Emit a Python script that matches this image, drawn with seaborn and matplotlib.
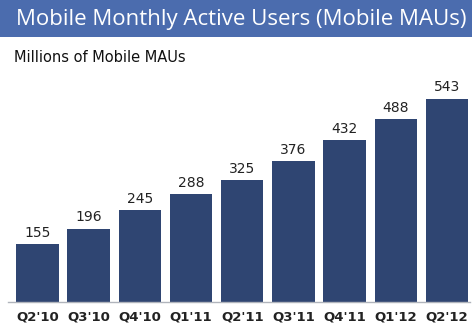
import matplotlib
matplotlib.use("Agg")
import matplotlib.pyplot as plt
import seaborn as sns
import pandas as pd
from matplotlib.patches import Rectangle

quarters = ["Q2'10", "Q3'10", "Q4'10", "Q1'11", "Q2'11", "Q3'11", "Q4'11", "Q1'12", "Q2'12"]
maus = [155, 196, 245, 288, 325, 376, 432, 488, 543]

df = pd.DataFrame({"quarter": quarters, "maus": maus})

sns.set_theme(style="white")
plt.rcParams['font.family'] = ['DejaVu Sans']

W, H = 472, 328
fig = plt.figure(figsize=(W / 100, H / 100), dpi=100)
fig.patch.set_facecolor("white")

# header band
fig.patches.append(Rectangle((0, 1 - 37 / H), 1, 37 / H, transform=fig.transFigure,
                             facecolor="#4b6cae", edgecolor="none", zorder=0))
title = fig.text(16 / W, 1 - 20 / H, "Mobile Monthly Active Users (Mobile MAUs)", color="white",
                 fontsize=20, va="center", ha="left", family=["Open Sans", "DejaVu Sans"])
renderer = fig.canvas.get_renderer()
wpx = title.get_window_extent(renderer).width
title.set_fontsize(20 * 452 / wpx)

fig.text(14 / W, 1 - 58 / H, "Millions of Mobile MAUs", color="#111111",
         fontsize=10.5, va="center", ha="left")

ax = fig.add_axes([8 / W, 26 / H, (470 - 8) / W, (302 - 70) / H])
sns.barplot(data=df, x="quarter", y="maus", color="#2f4572", saturation=1,
            width=0.83, ax=ax, edgecolor="none")
ax.set_xlim(-0.575, 8.45)
ax.set_ylim(0, 620)
for i, v in enumerate(maus):
    ax.text(i, v + 12, str(v), ha="center", va="bottom", fontsize=10, color="#222222")
ax.set_xlabel("")
ax.set_ylabel("")
ax.set_yticks([])
for s in ["top", "right", "left"]:
    ax.spines[s].set_visible(False)
ax.spines["bottom"].set_color("#b0b4bc")
ax.spines["bottom"].set_linewidth(1)
ax.tick_params(axis="x", length=0, pad=6, labelsize=9.5, labelcolor="#222222")
for t in ax.get_xticklabels():
    t.set_fontweight("bold")
ax.set_facecolor("white")

fig.savefig("out.png", dpi=100)
